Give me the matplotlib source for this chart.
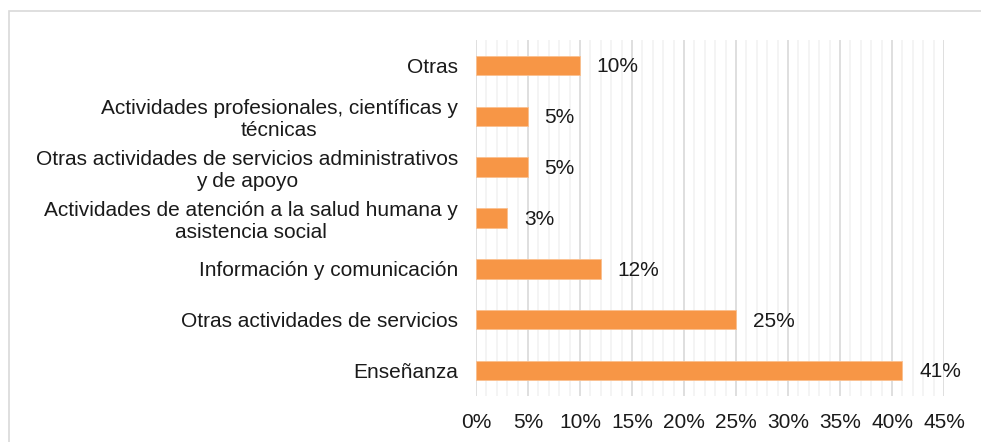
import matplotlib
matplotlib.use("Agg")
import matplotlib.pyplot as plt
from matplotlib.ticker import MultipleLocator, FuncFormatter
from matplotlib.patches import Rectangle

plt.rcParams['font.family'] = ['Liberation Sans', 'DejaVu Sans']

# Sectors, bottom to top
categories = [
    "Enseñanza",
    "Otras actividades de servicios",
    "Información y comunicación",
    "Actividades de atención a la salud humana y\nasistencia social",
    "Otras actividades de servicios administrativos\ny de apoyo",
    "Actividades profesionales, científicas y\ntécnicas",
    "Otras",
]
shares = [41, 25, 12, 3, 5, 5, 10]  # percent
x_ticks = [0, 5, 10, 15, 20, 25, 30, 35, 40, 45]

BAR_COLOR = "#F79646"
TEXT_COLOR = "#1a1a1a"
FS = 15

fig = plt.figure(figsize=(9.81, 4.42), dpi=100)
ax = fig.add_axes([0.4852, 0.1041, 0.9623 - 0.4852, 0.9095 - 0.1041])

# Outer chart frame
fig.patches.append(Rectangle((8.5 / 981, -0.1), 1.2, 1 - 10.5 / 442 + 0.1,
                             transform=fig.transFigure, fill=False,
                             edgecolor="#D9D9D9", linewidth=1.2))

ypos = range(len(categories))
ax.barh(ypos, shares, height=0.38, color=BAR_COLOR,
        edgecolor="#FAC090", linewidth=0.6, zorder=3)

for y, v in zip(ypos, shares):
    ax.annotate(f"{v}%", (v, y), xytext=(12, -1), textcoords="offset points",
                va="center", ha="left", fontsize=FS, color=TEXT_COLOR)

ax.set_xlim(0, 45)
ax.set_ylim(-0.5, 6.5)
ax.set_xticks(x_ticks)
ax.xaxis.set_major_formatter(FuncFormatter(lambda v, p: f"{v:.0f}%"))
ax.xaxis.set_minor_locator(MultipleLocator(1))
ax.set_yticks(list(ypos))
ax.set_yticklabels(categories, linespacing=1.2, multialignment="center")

ax.grid(axis="x", which="major", color="#D9D9D9", linewidth=1.2, zorder=0)
ax.grid(axis="x", which="minor", color="#F2F2F2", linewidth=1.2, zorder=0)
ax.set_axisbelow(True)

for s in ax.spines.values():
    s.set_visible(False)

ax.tick_params(axis="both", which="both", length=0, labelsize=FS,
               labelcolor=TEXT_COLOR)
ax.tick_params(axis="x", pad=12)
ax.tick_params(axis="y", pad=13)

fig.savefig("out.png", dpi=100)
